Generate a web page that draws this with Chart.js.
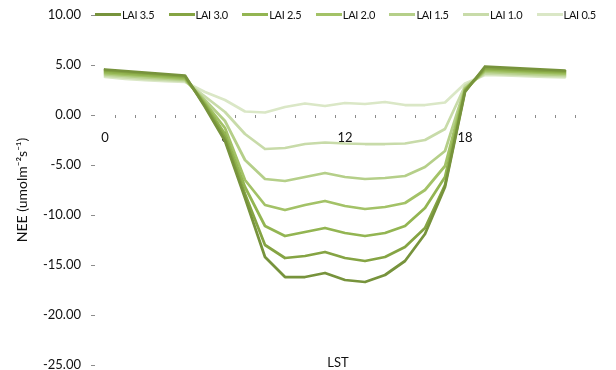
<!DOCTYPE html>
<html>
<head>
<meta charset="utf-8">
<script src="https://cdn.jsdelivr.net/npm/chart.js@4.4.1/dist/chart.umd.min.js"></script>
<style>
  html, body { margin: 0; padding: 0; background: #ffffff; }
  #wrap { position: relative; width: 616px; height: 370px; overflow: hidden; }
  #chart { position: absolute; left: 0; top: 0; }
  #legend { position: absolute; left: 0; top: 0; width: 616px; height: 30px; font-family: Lato, sans-serif; font-size: 11px; color: #111; }
  .li { position: absolute; top: 0; height: 30px; }
  .ll { position: absolute; left: 0; top: 13px; width: 26px; height: 3px; }
  .lt { position: absolute; left: 27px; top: 9px; line-height: 12px; white-space: nowrap; letter-spacing: -0.3px; }
  #xtitle { position: absolute; top: 355px; width: 60px; text-align: center; font-family: Lato, sans-serif; font-size: 13px; line-height: 15px; color: #111; }
</style>
</head>
<body>
<div id="wrap">
  <canvas id="chart" width="616" height="370"></canvas>
  <div id="legend"></div>
  <div id="xtitle"></div>
</div>
<script>
// ---- categories (local solar time, hours) ----
const hours = [0, 1, 2, 3, 4, 5, 6, 7, 8, 9, 10, 11, 12, 13, 14, 15, 16, 17, 18, 19, 20, 21, 22, 23];

// ---- series values (NEE, umol m-2 s-1) ----
const lai35 = [4.55, 4.40, 4.25, 4.10, 3.95, 0.80, -2.60, -8.30, -14.20, -16.20, -16.20, -15.80, -16.50, -16.70, -16.00, -14.60, -11.90, -7.20, 2.30, 4.85, 4.75, 4.65, 4.55, 4.45];
const lai30 = [4.45, 4.30, 4.15, 4.00, 3.85, 0.95, -2.30, -7.90, -13.00, -14.30, -14.10, -13.70, -14.30, -14.60, -14.20, -13.20, -11.30, -7.00, 2.40, 4.72, 4.62, 4.52, 4.44, 4.36];
const lai25 = [4.32, 4.17, 4.02, 3.88, 3.74, 1.10, -1.90, -7.20, -11.10, -12.10, -11.70, -11.30, -11.80, -12.10, -11.80, -11.10, -9.30, -6.20, 2.50, 4.58, 4.49, 4.40, 4.32, 4.25];
const lai20 = [4.19, 4.04, 3.90, 3.76, 3.62, 1.25, -1.30, -6.50, -9.00, -9.50, -9.00, -8.60, -9.10, -9.40, -9.20, -8.80, -7.50, -5.10, 2.60, 4.44, 4.36, 4.28, 4.20, 4.13];
const lai15 = [4.06, 3.91, 3.77, 3.64, 3.50, 1.50, -0.60, -4.50, -6.40, -6.60, -6.20, -5.80, -6.20, -6.40, -6.30, -6.10, -5.20, -3.60, 2.70, 4.30, 4.22, 4.14, 4.07, 4.01];
const lai10 = [3.93, 3.77, 3.62, 3.50, 3.40, 1.85, 0.30, -1.90, -3.40, -3.30, -2.90, -2.75, -2.85, -2.90, -2.90, -2.85, -2.50, -1.40, 2.90, 4.15, 4.08, 4.00, 3.94, 3.88];
const lai05 = [3.80, 3.62, 3.48, 3.38, 3.30, 2.30, 1.50, 0.35, 0.25, 0.80, 1.15, 0.90, 1.20, 1.10, 1.30, 1.00, 1.00, 1.25, 3.15, 4.00, 3.95, 3.88, 3.82, 3.77];

const seriesLabels = ['LAI 3.5', 'LAI 3.0', 'LAI 2.5', 'LAI 2.0', 'LAI 1.5', 'LAI 1.0', 'LAI 0.5'];
const seriesValues = [lai35, lai30, lai25, lai20, lai15, lai10, lai05];

// ---- tick labels / titles ----
const xTickLabels = ['0', '6', '12', '18'];
const yTickValues = [10, 5, 0, -5, -10, -15, -20, -25];
const yAxisTitle = 'NEE (umolm\u207B\u00B2s\u207B\u00B9)';
const xAxisTitle = 'LST';

// ---- styles ----
const seriesColors = ['#77933c', '#85a443', '#93b552', '#a3c267', '#b5cf89', '#c8dba9', '#dae7c6'];
const FONT = 'Lato, sans-serif';
const TEXT = '#111111';
const TICKMARK = '#8c8c8c';

const datasets = seriesLabels.map((label, i) => ({
  label: label,
  data: seriesValues[i],
  borderColor: seriesColors[i],
  backgroundColor: seriesColors[i],
  borderWidth: 2.75,
  pointRadius: 0,
  pointHoverRadius: 0,
  tension: 0,
  fill: false,
  borderJoinStyle: 'round',
  borderCapStyle: 'round'
}));

const chart = new Chart(document.getElementById('chart'), {
  type: 'line',
  data: { labels: hours.map(String), datasets: datasets },
  options: {
    responsive: false,
    animation: false,
    devicePixelRatio: 1,
    layout: { padding: { top: 15, bottom: 5, left: 0, right: 41 } },
    plugins: { legend: { display: false }, tooltip: { enabled: false }, title: { display: false } },
    scales: {
      x: {
        type: 'category',
        offset: true,
        position: { y: 0 },
        border: { display: false },
        grid: {
          display: true,
          drawOnChartArea: false,
          drawTicks: true,
          tickLength: 3,
          offset: true,
          color: (c) => (c.index === 0 ? 'rgba(0,0,0,0)' : TICKMARK)
        },
        ticks: {
          autoSkip: false,
          maxRotation: 0,
          minRotation: 0,
          padding: 12,
          color: TEXT,
          font: { family: FONT, size: 13 },
          callback: function (v) {
            const l = this.getLabelForValue(v);
            return xTickLabels.includes(l) ? l : '';
          }
        }
      },
      y: {
        min: -25,
        max: 10,
        border: { display: false },
        grid: { display: true, drawOnChartArea: false, drawTicks: true, tickLength: 4, color: TICKMARK },
        afterBuildTicks: (s) => { s.ticks = yTickValues.map(v => ({ value: v })); },
        ticks: {
          padding: 10,
          color: TEXT,
          font: { family: FONT, size: 13 },
          callback: (v) => Number(v).toFixed(2)
        },
        title: {
          display: true,
          text: yAxisTitle,
          color: TEXT,
          font: { family: FONT, size: 14 },
          padding: { top: 14, bottom: 0 }
        },
        afterFit: (s) => { s.width = 95; s.paddingTop = 0; s.paddingBottom = 0; }
      }
    }
  }
});

// ---- legend (HTML, built from the chart's datasets) ----
const legendEl = document.getElementById('legend');
const area = chart.chartArea;
chart.data.datasets.forEach((ds, i) => {
  const item = document.createElement('div');
  item.className = 'li';
  item.style.left = (area.left + i * 73.6) + 'px';
  const line = document.createElement('div');
  line.className = 'll';
  line.style.background = ds.borderColor;
  const txt = document.createElement('span');
  txt.className = 'lt';
  txt.textContent = ds.label;
  item.appendChild(line);
  item.appendChild(txt);
  legendEl.appendChild(item);
});

// ---- x axis title ----
const xt = document.getElementById('xtitle');
xt.textContent = xAxisTitle;
xt.style.left = ((area.left + area.right) / 2 + 3 - 30) + 'px';
</script>
</body>
</html>
